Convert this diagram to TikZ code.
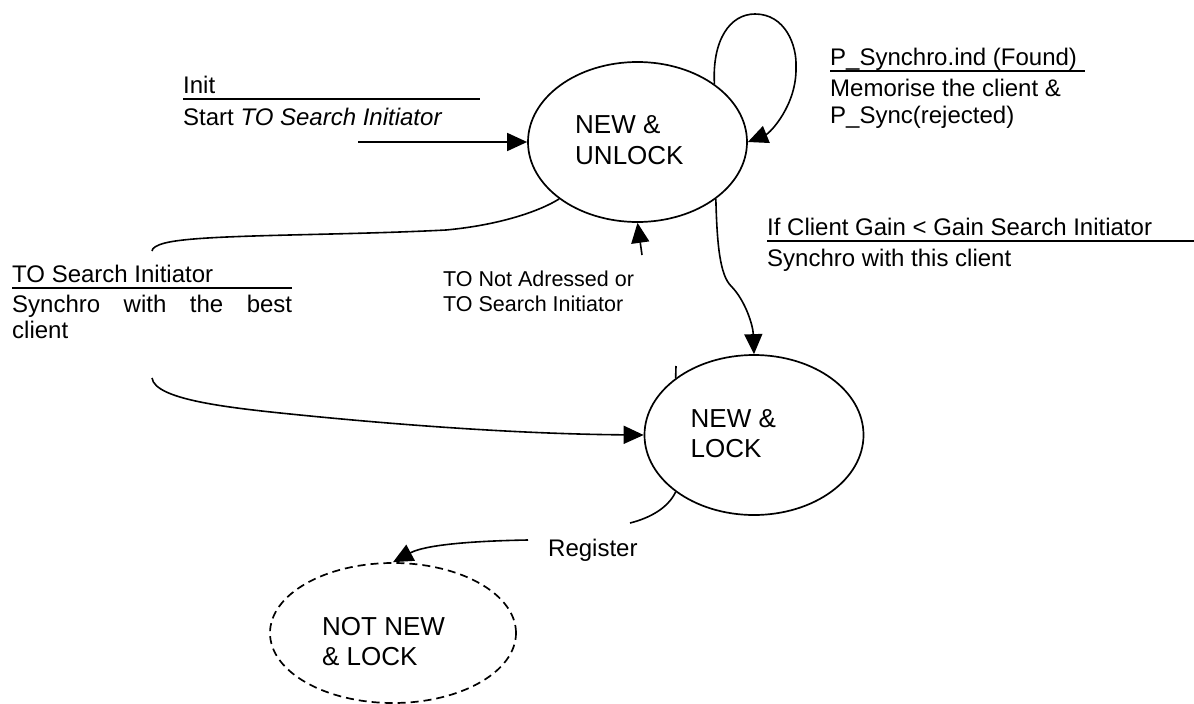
\documentclass[tikz,border=0pt]{standalone}
\usepackage{fontspec}
\setmainfont{Liberation Sans}
\usetikzlibrary{arrows.meta,shapes.geometric}
\begin{document}
\begin{tikzpicture}[x=1pt,y=1pt,
  st/.style={draw, ellipse, line width=1.7pt, minimum width=219pt, minimum height=160pt, inner sep=0pt},
  big/.style={font=\fontsize{26}{30}\selectfont, inner sep=0pt, anchor=base west},
  small/.style={font=\fontsize{24}{27}\selectfont, inner sep=0pt, anchor=base west},
  tiny/.style={font=\fontsize{21.5}{25}\selectfont, inner sep=0pt, anchor=base west},
  conn/.style={line width=1.6pt},
  arr/.style={conn, -{Triangle[length=20pt,width=18pt]}},
  rulebar/.style={line width=2pt}]
\fill[white] (0,0) rectangle (1194,-704);
\useasboundingbox (0,0) rectangle (1194,-704);

% states
\node[st] (u) at (637.5,-142) {};
\node[st] (l) at (754,-435) {};
\node[st, dash pattern=on 8pt off 5pt, minimum width=246pt, minimum height=140pt] (n) at (393,-633) {};

\node[big] (u1) at (575,-133) {NEW \&};
\node[big] (u2) at (575,-164) {UNLOCK};
\node[big] (l1) at (690.5,-427) {NEW \&};
\node[big] (l2) at (690.5,-457) {LOCK};
\node[big] (n1) at (322,-635) {NOT NEW};
\node[big] (n2) at (322,-665) {\& LOCK};

% labels
\node[small] (i1) at (183,-93) {Init};
\draw[rulebar] (183,-98.5) -- (480,-98.5);
\node[small] (i2) at (183,-125) {Start \textit{TO Search Initiator}};

\node[small] (p1) at (830,-65.5) {P\_Synchro.ind (Found)};
\draw[rulebar] (830,-71) -- (1085,-71);
\node[small] (p2) at (830,-96) {Memorise the client \&};
\node[small] (p3) at (830,-123) {P\_Sync(rejected)};

\node[small] (t1) at (12,-282) {TO Search Initiator};
\draw[rulebar] (12,-288) -- (292,-288);
\node[small] (t2) at (12,-312) {\hbox to 280pt{Synchro\hfill with\hfill the\hfill best}};
\node[small] (t3) at (12,-338) {client};

\node[small] (c1) at (767,-235.5) {If Client Gain < Gain Search Initiator};
\draw[rulebar] (767,-241) -- (1194,-241);
\node[small] (c2) at (767,-266) {Synchro with this client};

\node[tiny] (a1) at (443,-286.7) {TO Not Adressed or};
\node[tiny] (a2) at (443,-311.7) {TO Search Initiator};

\node[small] (r) at (548,-556.7) {Register};

% connectors
\coordinate (s0) at (358,-142);
\draw[arr] (s0) -- (u.west);

\draw[arr] (u.37) .. controls (712,-40) and (730,-14) .. (755,-14)
  .. controls (785,-14) and (797,-45) .. (796,-67)
  .. controls (797,-105) and (770,-133) .. (u.east);

\coordinate (e1) at (152,-251);
\draw[conn] (u.216) .. controls (540,-211) and (500,-225) .. (446,-230)
  .. controls (330,-236) and (200,-234) .. (165,-243)
  .. controls (157,-245) and (152,-248) .. (e1);

\coordinate (s2) at (152,-378);
\draw[arr] (s2) .. controls (155,-400) and (230,-408) .. (300,-415)
  .. controls (400,-425) and (520,-434) .. (l.west);

\coordinate (s3) at (642,-255);
\draw[arr] (s3) -- (u.south);

\draw[arr] (u.324) .. controls (717,-245) and (720,-275) .. (731,-286)
  .. controls (745,-300) and (753,-325) .. (l.north);

\coordinate (k) at (676,-366);
\draw[conn] (l.144) -- (k);

\coordinate (e4) at (630,-523);
\draw[conn] (l.216) .. controls (668,-508) and (650,-518) .. (e4);

\coordinate (s5) at (528,-540);
\draw[arr] (s5) .. controls (470,-541) and (425,-545) .. (n.north);
\end{tikzpicture}
\end{document}
